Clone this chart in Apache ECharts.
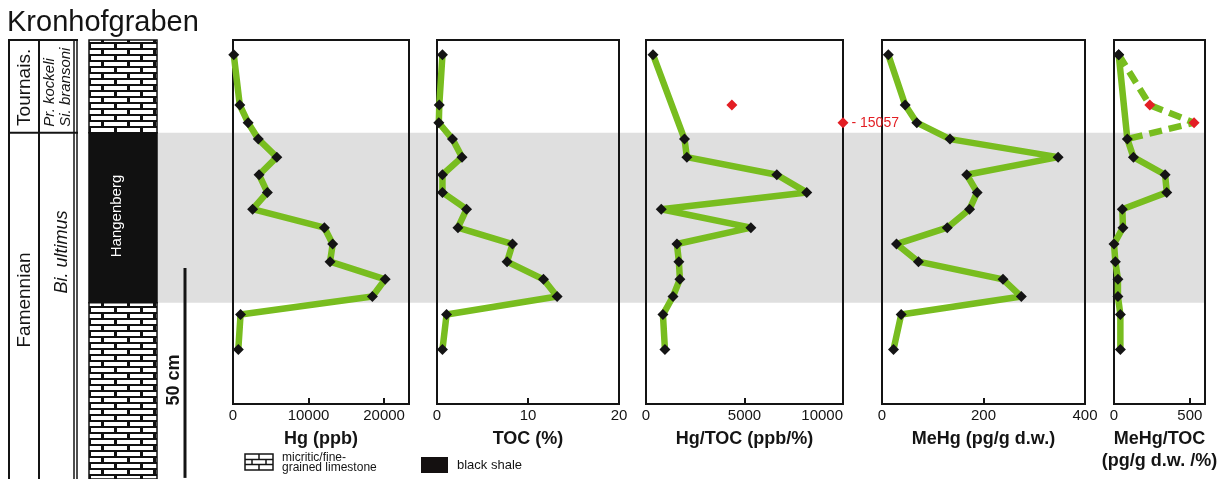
<!DOCTYPE html>
<html>
<head>
<meta charset="utf-8">
<script src="https://cdn.jsdelivr.net/npm/echarts@6/dist/echarts.min.js"></script>
<style>
html, body { margin: 0; padding: 0; background: #fff; }
#chart { width: 1222px; height: 479px; }
</style>
</head>
<body>
<div id="chart"></div>
<script>
// sample depth below top of the plotted section (cm)
const depths = [3.5, 15.5, 19.7, 23.6, 27.9, 32.1, 36.3, 40.3, 44.7, 48.6, 52.8, 57.0, 61.1, 65.4, 73.7];
const hg = [100, 900, 2000, 3350, 5800, 3450, 4550, 2600, 12100, 13200, 12850, 20150, 18450, 1000, 700];
const toc = [0.6, 0.25, 0.2, 1.7, 2.75, 0.6, 0.6, 3.25, 2.3, 8.3, 7.7, 11.7, 13.2, 1.05, 0.6];
const hgToc = [355, null, null, 1955, 2075, 6640, 8160, 775, 5325, 1570, 1670, 1720, 1370, 860, 960];
const hgTocRed = [null, 4360, 15057, null, null, null, null, null, null, null, null, null, null, null, null];
const meHg = [12.4, 45.7, 68.6, 134, 347, 167, 187.5, 172.5, 128.6, 28.6, 71.8, 238.4, 274.5, 37.8, 22.7];
const meHgToc = [31, null, null, 88, 128, 337, 348, 55, 59, 0, 9, 26, 26, 42, 42];
const meHgTocRed = [null, 236, 528, null, null, null, null, null, null, null, null, null, null, null, null];

const shaleTop = 22.1;    // Hangenberg black shale
const shaleBase = 62.6;
const depthMax = 86.7;
const scaleBarTop = 54.3; // 50 cm bar

const FONT = '"Liberation Sans", Arial, sans-serif';
const GREEN = '#78bd1f';
const RED = '#e31e24';
const INK = '#141414';

const chart = echarts.init(document.getElementById('chart'));

// brick pattern for the limestone
function brickCanvas() {
    const c = document.createElement('canvas');
    c.width = 26; c.height = 12;
    const g = c.getContext('2d');
    g.fillStyle = '#111';
    g.fillRect(0, 0, 26, 12);
    g.fillStyle = '#fff';
    g.fillRect(0, 2, 23, 4);
    g.fillRect(0, 8, 10, 4);
    g.fillRect(13, 8, 13, 4);
    return c;
}
const brick = { image: brickCanvas(), repeat: 'repeat' };

const panels = [
    { left: 233, width: 176, max: 23300, interval: 10000, name: 'Hg (ppb)', values: hg, hideMax: true },
    { left: 437, width: 182, max: 20, interval: 10, name: 'TOC (%)', values: toc },
    { left: 646, width: 197, max: 10000, interval: 5000, name: 'Hg/TOC (ppb/%)', values: hgToc, alignMax: 'right' },
    { left: 882, width: 203, max: 400, interval: 200, name: 'MeHg (pg/g d.w.)', values: meHg },
    { left: 1114, width: 91, max: 600, interval: 500, name: 'MeHg/TOC\n(pg/g d.w. /%)', values: meHgToc, hideMax: true },
];

const pairs = (vals) => vals.map((v, i) => v == null ? null : [v, depths[i]]).filter(Boolean);

const grid = [
    { left: 157, width: 1048, top: 40, height: 364 },           // grey band
];
const xAxis = [{ gridIndex: 0, type: 'value', min: 0, max: 1, show: false }];
const yAxis = [{ gridIndex: 0, type: 'value', min: 0, max: depthMax, inverse: true, show: false }];
const series = [{
    type: 'line', xAxisIndex: 0, yAxisIndex: 0, data: [[0.5, 0]], symbol: 'none',
    lineStyle: { opacity: 0 }, silent: true,
    markArea: {
        silent: true,
        itemStyle: { color: '#dfdfdf' },
        data: [[{ yAxis: shaleTop }, { yAxis: shaleBase }]],
    },
}];

panels.forEach((p, k) => {
    const gi = k + 1;
    grid.push({
        left: p.left, width: p.width, top: 40, height: 364,
        show: true, z: 3, borderColor: INK, borderWidth: 2, backgroundColor: 'transparent',
        containLabel: false, outerBoundsMode: 'none',
    });
    xAxis.push({
        gridIndex: gi, type: 'value', position: 'bottom', min: 0, max: p.max, interval: p.interval,
        name: p.name, nameLocation: 'middle', nameGap: 24, nameMoveOverlap: false,
        nameTextStyle: { fontFamily: FONT, fontWeight: 'bold', fontSize: 18, color: INK, lineHeight: 22, align: 'center' },
        axisLine: { show: false, onZero: false },
        axisTick: { show: false },
        axisLabel: {
            fontFamily: FONT, fontSize: 15, color: INK, margin: 4,
            formatter: v => String(v),
            showMaxLabel: !p.hideMax, alignMaxLabel: p.alignMax || null,
        },
        splitLine: { show: false },
    });
    yAxis.push({ gridIndex: gi, type: 'value', min: 0, max: depthMax, inverse: true, show: false });
    // inner tick marks on the bottom edge
    const ticks = [];
    for (let v = p.interval; v < p.max; v += p.interval) ticks.push(v);
    series.push({
        type: 'line', xAxisIndex: gi, yAxisIndex: gi, data: pairs(p.values),
        symbol: 'diamond', symbolSize: 11, showAllSymbol: true, z: 4,
        lineStyle: { color: GREEN, width: 6.5 },
        itemStyle: { color: INK, opacity: 1 },
        markLine: {
            silent: true, symbol: 'none', label: { show: false },
            lineStyle: { color: INK, width: 2, type: 'solid' },
            data: ticks.map(v => [{ coord: [v, depthMax] }, { coord: [v, depthMax - 1.4] }]),
        },
    });
});

// Hg/TOC off-trend samples
series.push({
    type: 'scatter', xAxisIndex: 3, yAxisIndex: 3, symbol: 'diamond', symbolSize: 11, z: 5, clip: false,
    itemStyle: { color: RED, opacity: 1 },
    data: hgTocRed.map((v, i) => v == null ? null : {
        value: [Math.min(v, panels[2].max), depths[i]],
        label: v > panels[2].max ? {
            show: true, position: 'right', distance: 3, formatter: '- ' + v,
            color: RED, fontFamily: FONT, fontSize: 14,
        } : { show: false },
    }).filter(Boolean),
});

// MeHg/TOC dashed upper part
const dashIdx = [0, 1, 2, 3];
series.push({
    type: 'line', xAxisIndex: 5, yAxisIndex: 5, symbol: 'none', z: 3,
    lineStyle: { color: GREEN, width: 6.5, type: [13, 7] },
    data: dashIdx.map(i => [meHgToc[i] != null ? meHgToc[i] : meHgTocRed[i], depths[i]]),
});
series.push({
    type: 'scatter', xAxisIndex: 5, yAxisIndex: 5, symbol: 'diamond', symbolSize: 11, z: 5, clip: false,
    itemStyle: { color: RED, opacity: 1 },
    data: pairs(meHgTocRed),
});
series.push({
    type: 'scatter', xAxisIndex: 5, yAxisIndex: 5, symbol: 'diamond', symbolSize: 11, z: 5,
    itemStyle: { color: INK, opacity: 1 },
    data: [[meHgToc[0], depths[0]]],
});

// lithology column
const lithoMax = depthMax * 439 / 364;
grid.push({ left: 89, width: 68, top: 40, height: 439 });
xAxis.push({ gridIndex: 6, type: 'value', min: 0, max: 1, show: false });
yAxis.push({ gridIndex: 6, type: 'value', min: 0, max: lithoMax, inverse: true, show: false });
series.push({
    type: 'line', xAxisIndex: 6, yAxisIndex: 6, data: [[0.5, 0]], symbol: 'none',
    lineStyle: { opacity: 0 }, silent: true,
    markArea: {
        silent: true,
        itemStyle: { borderColor: '#111', borderWidth: 1.5 },
        data: [
            [{ yAxis: 0, itemStyle: { color: brick } }, { yAxis: shaleTop }],
            [{ yAxis: shaleTop, itemStyle: { color: '#111' } }, { yAxis: shaleBase }],
            [{ yAxis: shaleBase, itemStyle: { color: brick } }, { yAxis: lithoMax }],
        ],
    },
});

chart.setOption({
    animation: false,
    backgroundColor: '#fff',
    grid, xAxis, yAxis, series,
});

// stratigraphic table, scale bar, title, legend
const py = d => chart.convertToPixel({ yAxisIndex: 6 }, d);
const yTop = py(0), yShale = py(shaleTop), yEnd = py(lithoMax);
const ln = (x1, y1, x2, y2, w) => ({
    type: 'line', silent: true, z: 10, shape: { x1, y1, x2, y2 }, style: { stroke: INK, lineWidth: w || 2 },
});
const txt = (text, x, y, opt) => ({
    type: 'text', silent: true, z: 10, x, y, rotation: opt.rot || 0,
    style: Object.assign({ text, fill: INK, align: 'center', verticalAlign: 'middle' }, opt.style),
});

const graphic = [
    txt('Kronhofgraben', 7, 23, { style: { font: '29px ' + FONT, align: 'left' } }),
    ln(9, yTop, 9, yEnd), ln(39, yTop, 39, yEnd), ln(74, yTop, 74, yEnd, 1.5), ln(77, yTop, 77, yEnd, 1.5),
    ln(8, yTop, 78, yTop), ln(8, yShale, 78, yShale),
    txt('Tournais.', 25, (yTop + yShale) / 2 + 1, { rot: Math.PI / 2, style: { font: '19px ' + FONT } }),
    txt('Pr. kockeli', 50, yShale - 6, { rot: Math.PI / 2, style: { font: 'italic 15px ' + FONT, align: 'left' } }),
    txt('Si. bransoni', 66, yShale - 6, { rot: Math.PI / 2, style: { font: 'italic 15px ' + FONT, align: 'left' } }),
    txt('Famennian', 25, 300, { rot: Math.PI / 2, style: { font: '19px ' + FONT } }),
    txt('Bi. ultimus', 62, 252, { rot: Math.PI / 2, style: { font: 'italic 18px ' + FONT } }),
    txt('Hangenberg', 117, 216, { rot: Math.PI / 2, style: { font: '15px ' + FONT, fill: '#fff' } }),
    ln(185, py(scaleBarTop), 185, py(scaleBarTop + 50), 3),
    txt('50 cm', 174, 380, { rot: Math.PI / 2, style: { font: 'bold 18px ' + FONT } }),
    // legend
    { type: 'rect', silent: true, z: 10, shape: { x: 245, y: 454, width: 28, height: 16 }, style: { fill: '#fff', stroke: INK, lineWidth: 1.5 } },
    ln(245, 459.5, 273, 459.5, 1.5), ln(245, 464.5, 273, 464.5, 1.5),
    ln(259, 454, 259, 459.5, 1.5), ln(252, 459.5, 252, 464.5, 1.5), ln(266, 459.5, 266, 464.5, 1.5), ln(259, 464.5, 259, 470, 1.5),
    txt('micritic/fine-', 282, 458, { style: { font: '12px ' + FONT, align: 'left' } }),
    txt('grained limestone', 282, 468, { style: { font: '12px ' + FONT, align: 'left' } }),
    { type: 'rect', silent: true, z: 10, shape: { x: 421, y: 457, width: 27, height: 16 }, style: { fill: '#141010' } },
    txt('black shale', 457, 465, { style: { font: '13px ' + FONT, align: 'left' } }),
];
chart.setOption({ graphic });
</script>
</body>
</html>
